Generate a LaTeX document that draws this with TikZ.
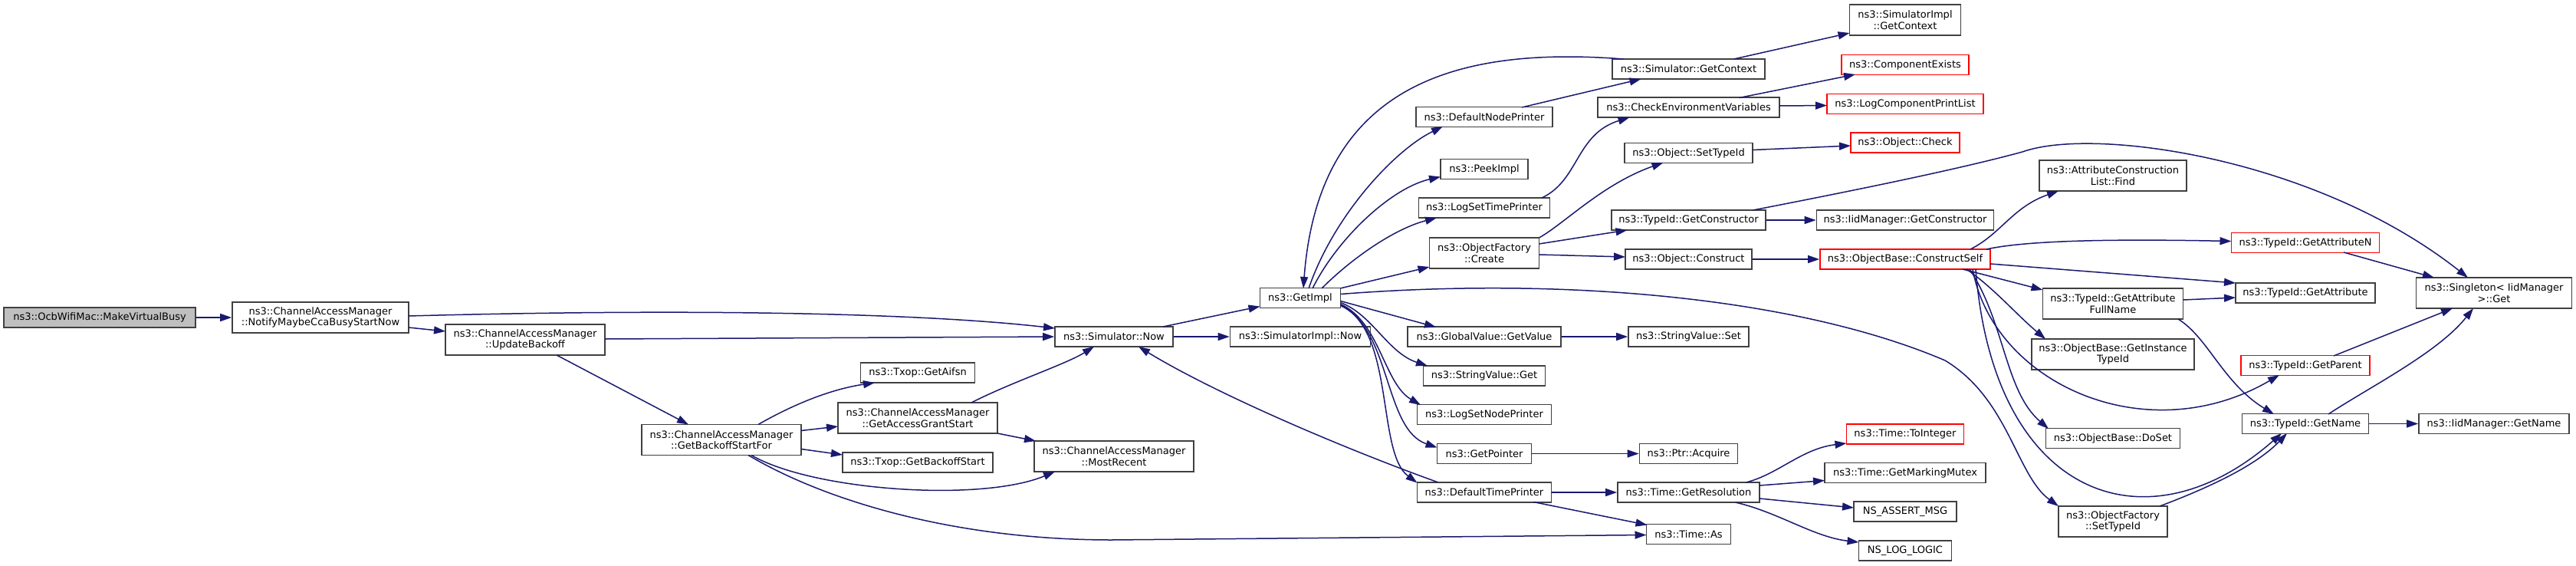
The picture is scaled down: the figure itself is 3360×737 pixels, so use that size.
\documentclass[tikz,border=0pt]{standalone}
\usepackage{fontspec}
\setmainfont{DejaVu Sans}
\usetikzlibrary{arrows.meta,calc}
\definecolor{edgec}{HTML}{191970}
\definecolor{bord}{HTML}{404040}
\definecolor{rootfill}{HTML}{BFBFBF}
\tikzset{
  fn/.style={draw=bord, line width=1.6pt, fill=white, rectangle, inner sep=0pt,
    align=center, font=\fontsize{13}{14.5}\selectfont, minimum height=26pt},
  fn2/.style={fn, minimum height=40pt},
  redfn/.style={fn, draw=red},
  redfn2/.style={fn2, draw=red},
  rootfn/.style={fn, fill=rootfill},
  call/.style={draw=edgec, line width=1.5pt, -{Triangle[length=15pt,width=10pt]}},
}
\begin{document}
\begin{tikzpicture}[x=1pt,y=-1pt]
\useasboundingbox (0,0) rectangle (3360,737);
% column 0-6
\node[rootfn, minimum width=250pt] (mvb) at (130,414) {ns3::OcbWifiMac::MakeVirtualBusy};
\node[fn2, minimum width=230pt] (notify) at (418,414) {ns3::ChannelAccessManager\\::NotifyMaybeCcaBusyStartNow};
\node[fn2, minimum width=208pt] (upd) at (685,443) {ns3::ChannelAccessManager\\::UpdateBackoff};
\node[fn2, minimum width=208pt] (gbsf) at (941,573.5) {ns3::ChannelAccessManager\\::GetBackoffStartFor};
\node[fn, minimum width=149pt] (aifsn) at (1197,486) {ns3::Txop::GetAifsn};
\node[fn2, minimum width=208pt] (gags) at (1197,545) {ns3::ChannelAccessManager\\::GetAccessGrantStart};
\node[fn, minimum width=196pt] (gbs) at (1197,603) {ns3::Txop::GetBackoffStart};
\node[fn, minimum width=154pt] (snow) at (1453,439) {ns3::Simulator::Now};
\node[fn2, minimum width=208pt] (mr) at (1453,595) {ns3::ChannelAccessManager\\::MostRecent};
\node[fn, minimum width=105pt] (gimpl) at (1696,388.5) {ns3::GetImpl};
\node[fn, minimum width=183pt] (sinow) at (1696,439) {ns3::SimulatorImpl::Now};
% column 7
\node[fn, minimum width=178pt] (dnp) at (1936,152.5) {ns3::DefaultNodePrinter};
\node[fn, minimum width=114pt] (peek) at (1936,220.5) {ns3::PeekImpl};
\node[fn, minimum width=171pt] (lstp) at (1936,271) {ns3::LogSetTimePrinter};
\node[fn2, minimum width=143pt] (ofc) at (1936,330) {ns3::ObjectFactory\\::Create};
\node[fn, minimum width=200pt] (gval) at (1936,439) {ns3::GlobalValue::GetValue};
\node[fn, minimum width=159pt] (sget) at (1936,490) {ns3::StringValue::Get};
\node[fn, minimum width=175pt] (lsnp) at (1936,540.5) {ns3::LogSetNodePrinter};
\node[fn, minimum width=123pt] (gptr) at (1936,591.5) {ns3::GetPointer};
\node[fn, minimum width=175pt] (dtp) at (1936,642) {ns3::DefaultTimePrinter};
% column 8
\node[fn, minimum width=199pt] (sgc) at (2202.5,90) {ns3::Simulator::GetContext};
\node[fn, minimum width=237pt] (cev) at (2202.5,140) {ns3::CheckEnvironmentVariables};
\node[fn, minimum width=167pt] (ostid) at (2202.5,199.5) {ns3::Object::SetTypeId};
\node[fn, minimum width=201pt] (tgc) at (2202.5,287) {ns3::TypeId::GetConstructor};
\node[fn, minimum width=165pt] (oc) at (2202.5,338) {ns3::Object::Construct};
\node[fn, minimum width=157pt] (sset) at (2202.5,439) {ns3::StringValue::Set};
\node[fn, minimum width=128pt] (acq) at (2202.5,591.5) {ns3::Ptr::Acquire};
\node[fn, minimum width=185pt] (gres) at (2202.5,642) {ns3::Time::GetResolution};
\node[fn, minimum width=110pt] (tas) at (2202.5,696.5) {ns3::Time::As};
% column 9
\node[fn2, minimum width=145pt] (sigc) at (2485,26) {ns3::SimulatorImpl\\::GetContext};
\node[redfn, minimum width=166pt] (cex) at (2485,84.5) {ns3::ComponentExists};
\node[redfn, minimum width=204pt] (lcpl) at (2485,135.5) {ns3::LogComponentPrintList};
\node[redfn, minimum width=142pt] (ochk) at (2485,186) {ns3::Object::Check};
\node[fn, minimum width=231pt] (igc) at (2485,287) {ns3::IidManager::GetConstructor};
\node[redfn, minimum width=222pt] (cs) at (2485,338) {ns3::ObjectBase::ConstructSelf};
\node[redfn, minimum width=153pt] (toint) at (2485,566) {ns3::Time::ToInteger};
\node[fn, minimum width=210pt] (gmm) at (2485,616.5) {ns3::Time::GetMarkingMutex};
\node[fn, minimum width=134pt] (nam) at (2485,667) {NS\_ASSERT\_MSG};
\node[fn, minimum width=121pt] (nll) at (2485,718) {NS\_LOG\_LOGIC};
% column 10
\node[fn2, minimum width=192pt] (acl) at (2756,229) {ns3::AttributeConstruction\\List::Find};
\node[fn2, minimum width=183pt] (gafn) at (2756,396) {ns3::TypeId::GetAttribute\\FullName};
\node[fn2, minimum width=212pt] (git) at (2756,462) {ns3::ObjectBase::GetInstance\\TypeId};
\node[fn, minimum width=175pt] (doset) at (2756,571.5) {ns3::ObjectBase::DoSet};
\node[fn2, minimum width=142pt] (ofst) at (2756,680) {ns3::ObjectFactory\\::SetTypeId};
% column 11
\node[redfn, minimum width=193pt] (gan) at (3007,316.5) {ns3::TypeId::GetAttributeN};
\node[fn, minimum width=182pt] (ga) at (3007,382) {ns3::TypeId::GetAttribute};
\node[redfn, minimum width=168pt] (gpar) at (3007,476.5) {ns3::TypeId::GetParent};
\node[fn, minimum width=165pt] (gname) at (3007,552.5) {ns3::TypeId::GetName};
% column 12
\node[fn2, minimum width=203pt] (sing) at (3253,382) {ns3::Singleton< IidManager\\ >::Get};
\node[fn, minimum width=196pt] (ign) at (3253,552.5) {ns3::IidManager::GetName};

% edges
\draw[call] (mvb.east) -- (notify.west);
\draw[call] ($(notify)+(115,-2)$) .. controls (900,402) and (1200,408) .. ($(snow)+(-77,-11)$);
\draw[call] ($(notify)+(115,13)$) -- ($(upd)+(-104,-11)$);
\draw[call] ($(upd)+(104,-1)$) -- (snow.west);
\draw[call] ($(upd)+(41,20)$) -- ($(gbsf)+(-43,-20)$);
\draw[call] ($(gbsf)+(48,-20)$) .. controls (1030,530) and (1080,508) .. ($(aifsn)+(-56,13)$);
\draw[call] ($(gbsf)+(104,-12)$) -- ($(gags)+(-104,11)$);
\draw[call] ($(gbsf)+(104,12)$) -- ($(gbs)+(-98,-10)$);
\draw[call] ($(gbsf)+(39,20)$) .. controls (1060,640) and (1280,655) .. ($(mr)+(-77,20)$);
\draw[call] ($(gbsf)+(35,20)$) .. controls (1080,655) and (1250,704) .. (1450,704) -- ($(tas)+(-55,1)$);
\draw[call] ($(gags)+(70,-20)$) .. controls (1320,498) and (1390,475) .. ($(snow)+(-26,13)$);
\draw[call] ($(gags)+(104,20)$) -- ($(mr)+(-102,-20)$);
\draw[call] ($(snow)+(64,-13)$) -- ($(gimpl)+(-52.5,11)$);
\draw[call] (snow.east) -- (sinow.west);
\draw[call] ($(dtp)+(-60,-13)$) .. controls (1740,580) and (1580,510) .. ($(snow)+(32,13)$);
\draw[call] ($(sgc)+(-85,-13)$) .. controls (1900,60) and (1720,110) .. ($(gimpl)+(4,-12.5)$);
\draw[call] ($(sgc)+(59,-13)$) -- ($(sigc)+(-72.5,17)$);
\draw[call] ($(dnp)+(49,-12.5)$) -- ($(sgc)+(-62,13)$);
\draw[call] ($(gimpl)+(11,-12.5)$) .. controls (1740,280) and (1820,195) .. ($(dnp)+(-54,12.5)$);
\draw[call] ($(gimpl)+(16,-12.5)$) .. controls (1745,310) and (1815,245) .. ($(peek)+(-57,10)$);
\draw[call] ($(gimpl)+(28,-12.5)$) .. controls (1765,335) and (1820,298) .. ($(lstp)+(-62,13)$);
\draw[call] ($(gimpl)+(52,-12.5)$) -- ($(ofc)+(-71.5,18)$);
\draw[call] ($(lstp)+(75,-13)$) .. controls (2060,235) and (2055,175) .. ($(cev)+(-77,13)$);
\draw[call] ($(cev)+(66,-12.5)$) -- ($(cex)+(-65,12.5)$);
\draw[call] ($(cev)+(118.5,-2)$) -- ($(lcpl)+(-102,2)$);
\draw[call] ($(ofc)+(71.5,-20)$) .. controls (2040,292) and (2090,240) .. ($(ostid)+(-33,12.5)$);
\draw[call] ($(ofc)+(71.5,-12)$) -- ($(tgc)+(-80,13)$);
\draw[call] ($(ofc)+(71.5,2)$) -- ($(oc)+(-82.5,-3)$);
\draw[call] ($(ostid)+(83.5,-4)$) -- ($(ochk)+(-71,4)$);
\draw[call] (tgc.east) -- (igc.west);
\draw[call] ($(tgc)+(84,-13)$) .. controls (2400,252) and (2550,222) .. (2638,198)
   .. controls (2730,165) and (3020,205) .. ($(sing)+(-34,-20)$);
\draw[call] (oc.east) -- (cs.west);
\draw[call] ($(cs)+(85,-13)$) .. controls (2610,305) and (2625,270) .. ($(acl)+(-71,20)$);
\draw[call] ($(cs)+(106,-13)$) .. controls (2650,312) and (2780,312) .. ($(gan)+(-96.5,-2)$);
\draw[call] ($(cs)+(111,6)$) -- ($(ga)+(-91,-13)$);
\draw[call] ($(cs)+(75,13)$) -- ($(gafn)+(-91.5,-18)$);
\draw[call] ($(cs)+(80,13)$) .. controls (2600,375) and (2630,410) .. ($(git)+(-88,-20)$);
\draw[call] ($(cs)+(88,13)$) .. controls (2600,500) and (2800,590) .. ($(gpar)+(-34,12.5)$);
\draw[call] ($(cs)+(84,13)$) .. controls (2615,420) and (2615,510) .. ($(doset)+(-84,-12.5)$);
\draw[call] ($(cs)+(92,13)$) .. controls (2600,650) and (2800,720) .. ($(gname)+(-31,12.5)$);
\draw[call] ($(gan)+(50,12.5)$) -- ($(sing)+(-78,-20)$);
\draw[call] ($(gafn)+(91.5,-5)$) -- ($(ga)+(-91,6)$);
\draw[call] ($(gafn)+(85,20)$) .. controls (2880,440) and (2900,500) .. ($(gname)+(-41,-12.5)$);
\draw[call] ($(gpar)+(37,-12.5)$) -- ($(sing)+(-54,20)$);
\draw[call] ($(gname)+(30,-12.5)$) .. controls (3090,505) and (3180,460) .. ($(sing)+(-27,20)$);
\draw[call] (gname.east) -- (ign.west);
\draw[call] ($(gimpl)+(52.5,4)$) -- ($(gval)+(-63,-12.5)$);
\draw[call] (gval.east) -- (sset.west);
\draw[call] ($(gimpl)+(52.5,6)$) .. controls (1790,410) and (1810,460) .. ($(sget)+(-74,-13)$);
\draw[call] ($(gimpl)+(52.5,8)$) .. controls (1800,420) and (1805,500) .. ($(lsnp)+(-83,-12.5)$);
\draw[call] ($(gimpl)+(52.5,9)$) .. controls (1815,430) and (1805,560) .. ($(gptr)+(-61.5,-8)$);
\draw[call] ($(gimpl)+(52.5,10)$) .. controls (1820,430) and (1795,590) .. ($(dtp)+(-87.5,-12.5)$);
\draw[call] (gptr.east) -- (acq.west);
\draw[call] (dtp.east) -- (gres.west);
\draw[call] ($(dtp)+(64,12.5)$) -- ($(tas)+(-54,-12)$);
\draw[call] ($(gres)+(75,-13)$) .. controls (2320,618) and (2350,585) .. ($(toint)+(-76.5,12)$);
\draw[call] ($(gres)+(92.5,-9)$) -- ($(gmm)+(-105,10)$);
\draw[call] ($(gres)+(92.5,8)$) -- ($(nam)+(-67,-5)$);
\draw[call] ($(gres)+(61,13)$) .. controls (2320,668) and (2365,700) .. ($(nll)+(-60.5,-11)$);
\draw[call] ($(gimpl)+(52.5,-5)$) .. controls (2050,360) and (2350,390) .. (2537,470)
   .. controls (2620,520) and (2630,620) .. ($(ofst)+(-71,-20)$);
\draw[call] ($(ofst)+(61,-20)$) .. controls (2870,640) and (2940,610) .. ($(gname)+(-24,12.5)$);
\end{tikzpicture}
\end{document}
